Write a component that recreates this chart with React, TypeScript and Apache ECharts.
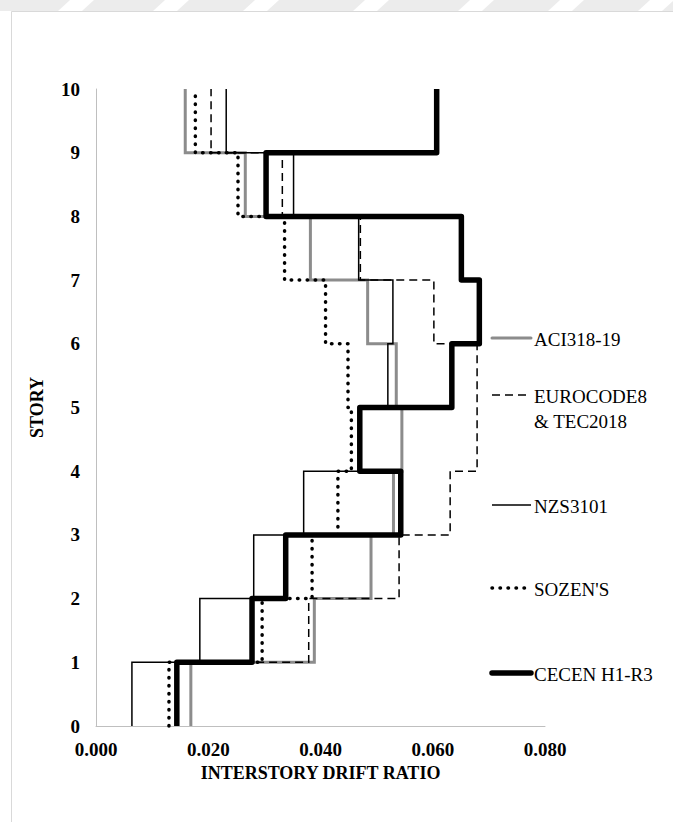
import React, { useEffect, useRef } from "react";
import * as echarts from "echarts";

// Interstory drift ratio per story (story 1 .. 10)
const stories = [1, 2, 3, 4, 5, 6, 7, 8, 9, 10];
const aci318 = [0.0169, 0.0389, 0.049, 0.053, 0.0545, 0.0535, 0.0484, 0.0382, 0.0266, 0.0159];
const eurocode = [0.0144, 0.0379, 0.054, 0.0631, 0.0679, 0.0679, 0.0602, 0.0471, 0.0332, 0.0205];
const nzs3101 = [0.0064, 0.0185, 0.0281, 0.037, 0.047, 0.052, 0.0529, 0.0468, 0.0352, 0.0232];
const sozen = [0.013, 0.0296, 0.0385, 0.0431, 0.0455, 0.0449, 0.0409, 0.0336, 0.0253, 0.0177];
const cecen = [0.0144, 0.0278, 0.0338, 0.0543, 0.047, 0.0634, 0.0683, 0.0651, 0.0303, 0.0607];

const seriesNames = ["ACI318-19", "EUROCODE8\n& TEC2018", "NZS3101", "SOZEN'S", "CECEN H1-R3"];
const xTicks = [0, 0.02, 0.04, 0.06, 0.08];

function stepPoints(vals: number[]) {
  const pts: number[][] = [];
  vals.forEach((v, i) => {
    pts.push([v, stories[i] - 1]);
    pts.push([v, stories[i]]);
  });
  return pts;
}

const serif = "Liberation Serif";

export default function App() {
  const ref = useRef<HTMLDivElement>(null);
  useEffect(() => {
    document.body.style.margin = "0";
    if (!ref.current) return;
    const chart = echarts.init(ref.current, undefined, { renderer: "svg" });

    const styles = [
      { color: "#8c8c8c", width: 3, type: "solid" as any, cap: "butt", join: "miter" },
      { color: "#000", width: 1.5, type: [8, 5] as any, cap: "butt", join: "miter" },
      { color: "#000", width: 1.5, type: "solid" as any, cap: "butt", join: "miter" },
      { color: "#000", width: 3.5, type: [0.5, 7.5] as any, cap: "round", join: "round" },
      { color: "#000", width: 5.5, type: "solid" as any, cap: "butt", join: "round" },
    ];
    const dataSets = [aci318, eurocode, nzs3101, sozen, cecen];

    const legendY = [338, 395, 505, 588, 673];
    const graphics: any[] = [];
    // watermark band at top
    graphics.push({
      type: "rect",
      z: -10,
      shape: { x: 0, y: 0, width: 673, height: 11 },
      style: { fill: "#ececec" },
    });
    [70, 165, 255, 365, 470, 560, 650].forEach((gx) => {
      graphics.push({
        type: "polygon",
        z: -9,
        shape: { points: [[gx, 0], [gx + 24, 0], [gx + 12, 11], [gx - 12, 11]] },
        style: { fill: "#ffffff" },
      });
    });
    graphics.push({
      type: "rect",
      z: -8,
      shape: { x: 11.5, y: 11.5, width: 700, height: 900 },
      style: { fill: "#fff", stroke: "#d9d9d9", lineWidth: 1 },
    });
    seriesNames.forEach((name, i) => {
      const s = styles[i];
      graphics.push({
        type: "line",
        shape: { x1: 492, y1: legendY[i], x2: 531, y2: legendY[i] },
        style: {
          stroke: s.color,
          lineWidth: s.width,
          lineDash: Array.isArray(s.type) ? s.type : null,
          lineCap: i === 4 || i === 0 ? "round" : s.cap,
        },
      });
      graphics.push({
        type: "text",
        x: 534,
        y: legendY[i] - 11,
        style: {
          text: name,
          fontFamily: serif,
          fontSize: 19,
          fill: "#000",
          verticalAlign: "top",
          lineHeight: 25,
        },
      });
    });

    const labelFont = { fontFamily: serif, fontWeight: "bold" as any, fontSize: 19, color: "#000" };
    const nameFont = { fontFamily: serif, fontWeight: "bold" as any, fontSize: 18, color: "#000" };

    chart.setOption({
      animation: false,
      backgroundColor: "transparent",
      grid: { left: 96, top: 89, width: 449, height: 637 },
      xAxis: {
        type: "value",
        min: xTicks[0],
        max: xTicks[xTicks.length - 1],
        interval: 0.02,
        axisLine: { show: true, lineStyle: { color: "#bfbfbf", width: 1 } },
        axisTick: { show: false },
        splitLine: { show: false },
        axisLabel: {
          formatter: (v: number) => v.toFixed(3),
          ...labelFont,
          margin: 14,
        },
        name: "INTERSTORY DRIFT RATIO",
        nameLocation: "middle",
        nameGap: 38,
        nameTextStyle: nameFont,
      },
      yAxis: {
        type: "value",
        min: 0,
        max: 10,
        interval: 1,
        axisLine: { show: true, lineStyle: { color: "#bfbfbf", width: 1 } },
        axisTick: { show: false },
        splitLine: { show: false },
        axisLabel: {
          ...labelFont,
          margin: 16,
        },
        name: "STORY",
        nameLocation: "middle",
        nameGap: 50,
        nameRotate: 90,
        nameTextStyle: nameFont,
      },
      graphic: graphics,
      series: dataSets.map((d, i) => ({
        name: seriesNames[i],
        type: "line",
        data: stepPoints(d),
        showSymbol: false,
        symbol: "none",
        clip: false,
        z: 2 + i,
        lineStyle: {
          color: styles[i].color,
          width: styles[i].width,
          type: styles[i].type,
          cap: styles[i].cap,
          join: styles[i].join,
        },
      })),
    });
    return () => chart.dispose();
  }, []);
  return <div ref={ref} style={{ width: 673, height: 822 }} />;
}
